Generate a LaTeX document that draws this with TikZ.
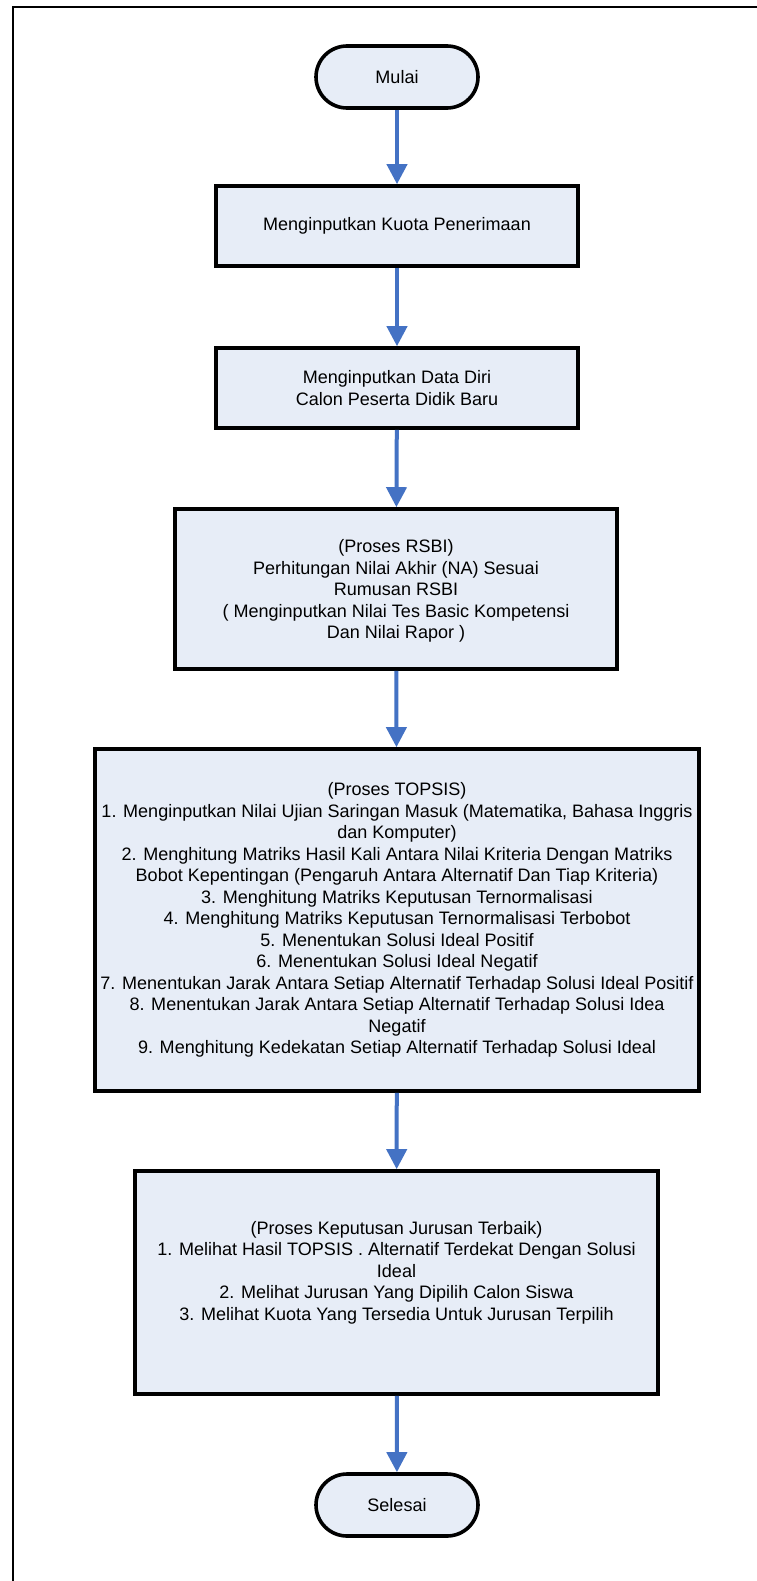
\documentclass[tikz,border=0pt]{standalone}
\usepackage{fontspec}
\setmainfont{Liberation Sans}
\usetikzlibrary{arrows.meta}
\definecolor{boxfill}{HTML}{E7EDF7}
\definecolor{flowblue}{HTML}{4472C4}
\begin{document}
\begin{tikzpicture}[x=1bp,y=-1bp,
  every node/.style={font=\fontsize{18.1}{21.6}\selectfont, align=center, inner sep=0pt},
  procbox/.style={draw=black, line width=3.6bp, fill=boxfill, rectangle},
  flow/.style={draw=flowblue, line width=4bp, -{Triangle[width=20bp,length=20bp]}},
  frameline/.style={draw=black, line width=1.3bp}]
\useasboundingbox[fill=white] (0,0) rectangle (757,1581);
% page frame: top rule and left rule
\coordinate (ftl) at (13,7);
\coordinate (ftr) at (757,7);
\coordinate (fbl) at (13,1581);
\draw[frameline] (ftr) -- (ftl) -- (fbl);
% terminals
\node[procbox, rounded corners=31bp, minimum width=162bp, minimum height=62bp] (start) at (397,77) {Mulai};
\node[procbox, rounded corners=31bp, minimum width=162bp, minimum height=62bp] (stop) at (397,1505) {Selesai};
% process steps
\node[procbox, minimum width=362bp, minimum height=80bp] (quota) at (397,226) {Menginputkan Kuota Penerimaan};
\node[procbox, minimum width=362bp, minimum height=80bp] (data) at (397,388) {Menginputkan Data Diri\\Calon Peserta Didik Baru};
\node[procbox, minimum width=442bp, minimum height=160bp] (rsbi) at (396,589) {};
\node (rsbitext) at ([yshift=-2bp]rsbi.center) {(Proses RSBI)\\Perhitungan Nilai Akhir (NA) Sesuai\\Rumusan RSBI\\( Menginputkan Nilai Tes Basic Kompetensi\\Dan Nilai Rapor )};
\node[procbox, minimum width=604bp, minimum height=342bp] (topsis) at (397,920) {(Proses TOPSIS)\\1. Menginputkan Nilai Ujian Saringan Masuk (Matematika, Bahasa Inggris\\dan Komputer)\\2. Menghitung Matriks Hasil Kali Antara Nilai Kriteria Dengan Matriks\\Bobot Kepentingan (Pengaruh Antara Alternatif Dan Tiap Kriteria)\\3. Menghitung Matriks Keputusan Ternormalisasi\\4. Menghitung Matriks Keputusan Ternormalisasi Terbobot\\5. Menentukan Solusi Ideal Positif\\6. Menentukan Solusi Ideal Negatif\\7. Menentukan Jarak Antara Setiap Alternatif Terhadap Solusi Ideal Positif\\8. Menentukan Jarak Antara Setiap Alternatif Terhadap Solusi Idea\\Negatif\\9. Menghitung Kedekatan Setiap Alternatif Terhadap Solusi Ideal};
\node[procbox, minimum width=523bp, minimum height=223bp] (major) at (396.5,1282.5) {};
\node (majortext) at ([yshift=10bp]major.center) {(Proses Keputusan Jurusan Terbaik)\\1. Melihat Hasil TOPSIS . Alternatif Terdekat Dengan Solusi\\Ideal\\2. Melihat Jurusan Yang Dipilih Calon Siswa\\3. Melihat Kuota Yang Tersedia Untuk Jurusan Terpilih};
% connectors
\draw[flow] (start) -- (quota);
\draw[flow] (quota) -- (data);
\draw[flow] (data) -- (rsbi);
\draw[flow] (rsbi) -- (topsis);
\draw[flow] (topsis) -- (major);
\draw[flow] (major) -- (stop);
\end{tikzpicture}
\end{document}
